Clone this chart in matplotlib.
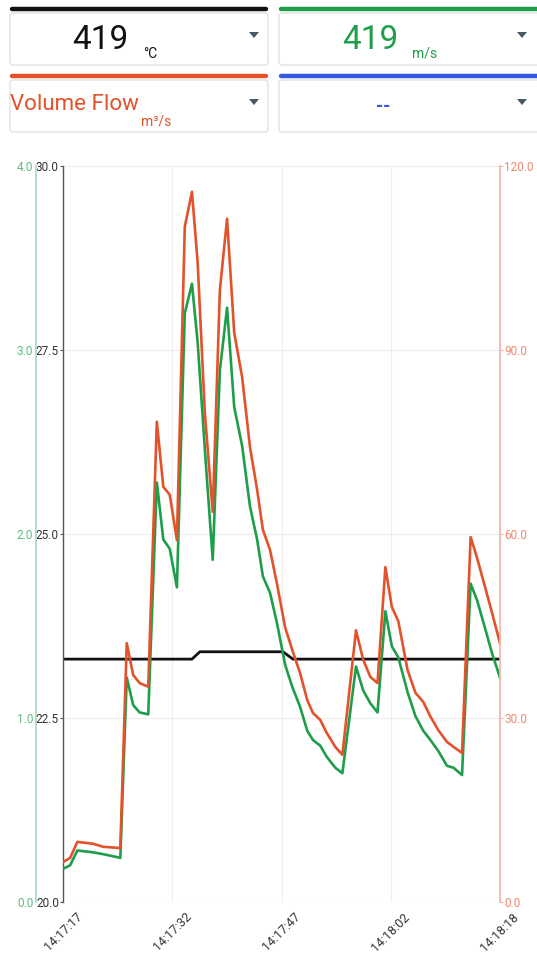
import matplotlib
matplotlib.use("Agg")
from matplotlib import pyplot as plt
from matplotlib.patches import FancyBboxPatch, Polygon

plt.rcParams['font.family'] = ['Roboto', 'DejaVu Sans']

# seconds since 14:17:17
times = [0, 1.0, 2.0, 4.2, 5.6, 8.0, 8.9, 9.8, 10.7, 11.9, 13.1, 14.0, 14.9, 15.9,
         17.0, 18.0, 18.8, 19.8, 20.9, 21.9, 22.9, 23.9, 25.0, 26.1, 27.1, 27.9,
         28.9, 29.9, 31.0, 32.0, 33.1, 34.1, 34.9, 35.9, 36.8, 38.0, 39.0, 40.9,
         41.9, 42.9, 43.9, 45.0, 45.9, 46.8, 48.1, 49.2, 50.3, 51.3, 52.4, 53.6,
         54.5, 55.7, 56.9, 57.8, 58.9, 59.9, 61.0]

volume_flow = [6.5, 7.2, 9.8, 9.5, 9.0, 8.8, 42.2, 37.0, 35.7, 35.1, 78.3, 67.7,
               66.4, 59.0, 110.1, 115.8, 104.2, 79.7, 63.6, 99.8, 111.4, 92.8,
               85.6, 74.2, 67.2, 60.7, 57.4, 51.7, 44.8, 41.1, 37.3, 32.9, 30.8,
               29.7, 27.6, 25.3, 24.0, 44.3, 39.5, 36.7, 35.7, 54.6, 48.1, 45.8,
               37.8, 34.1, 32.6, 30.2, 28.0, 26.1, 25.3, 24.3, 59.5, 56.1, 51.4,
               47.1, 42.2]

velocity = [0.18, 0.20, 0.28, 0.27, 0.26, 0.24, 1.22, 1.07, 1.03, 1.02, 2.28, 1.97,
            1.92, 1.71, 3.20, 3.36, 3.04, 2.46, 1.86, 2.89, 3.23, 2.69, 2.48, 2.15,
            1.97, 1.77, 1.68, 1.51, 1.29, 1.17, 1.06, 0.93, 0.88, 0.85, 0.79, 0.73,
            0.70, 1.28, 1.15, 1.08, 1.03, 1.58, 1.39, 1.33, 1.14, 1.01, 0.93, 0.88,
            0.82, 0.74, 0.73, 0.69, 1.73, 1.64, 1.49, 1.35, 1.22]

temp_times = [0, 18.0, 19.1, 30.7, 32.1, 61.0]
temperature = [23.3, 23.3, 23.4, 23.4, 23.3, 23.3]

x_ticks = [0, 15.25, 30.5, 45.75, 61.0]
x_labels = ["14:17:17", "14:17:32", "14:17:47", "14:18:02", "14:18:18"]

BLACK = "#111111"
GREEN = "#1e9e4a"
RED = "#e2522b"
BLUE = "#3558e0"

W, H = 537, 967
fig = plt.figure(figsize=(W / 100, H / 100), dpi=100)

# header with the four selector boxes, drawn in pixel coords
hdr = fig.add_axes([0, 0, 1, 1])
hdr.set_xlim(0, W)
hdr.set_ylim(H, 0)
hdr.axis("off")


def selector(x0, x1, y_bar, color):
    hdr.plot([x0 + 2, x1 - 2], [y_bar, y_bar], color=color, lw=3.2,
             solid_capstyle="round")
    box = FancyBboxPatch((x0, y_bar + 4), x1 - x0, 52,
                         boxstyle="round,pad=0,rounding_size=3",
                         fc="white", ec="#e2e2e2", lw=1.0)
    hdr.add_patch(box)
    tx = x1 - 14 if x1 < W else 522
    ty = y_bar + 26
    hdr.add_patch(Polygon([[tx - 5, ty - 3], [tx + 5, ty - 3], [tx, ty + 3]],
                          closed=True, fc="#455a64", ec="none"))


selector(10, 268, 9, BLACK)
selector(279, 560, 9, GREEN)
selector(10, 268, 76, RED)
selector(279, 560, 76, BLUE)

hdr.text(100, 40, "419", fontsize=24, color=BLACK, ha="center", va="center")
hdr.text(143, 54, "°C", fontsize=10, color=BLACK, ha="left", va="center")
hdr.text(370, 40, "419", fontsize=24, color=GREEN, ha="center", va="center")
hdr.text(412, 54, "m/s", fontsize=10, color=GREEN, ha="left", va="center")
hdr.text(10, 104, "Volume Flow", fontsize=16, color=RED, ha="left", va="center")
hdr.text(141, 121, "m³/s", fontsize=10, color=RED, ha="left", va="center")
hdr.text(383, 107, "--", fontsize=13, color=BLUE, ha="center", va="center",
         fontweight="bold")

# chart
left, right = 63 / W, 500 / W
bottom, top = 1 - 902 / H, 1 - 166 / H
ax = fig.add_axes([left, bottom, right - left, top - bottom])
ax_g = ax.twinx()
ax_r = ax.twinx()

ax.plot(temp_times, temperature, color=BLACK, lw=2.0)
ax_g.plot(times, velocity, color=GREEN, lw=1.9)
ax_r.plot(times, volume_flow, color=RED, lw=1.9)

ax.set_xlim(0, 61)
ax.set_ylim(20, 30)
ax_g.set_ylim(0, 4)
ax_r.set_ylim(0, 120)

ax.set_yticks([20, 22.5, 25, 27.5, 30])
ax.set_yticklabels(["20.0", "22.5", "25.0", "27.5", "30.0"])
ax_g.set_yticks([0, 1, 2, 3, 4])
ax_g.set_yticklabels(["0.0", "1.0", "2.0", "3.0", "4.0"])
ax_r.set_yticks([0, 30, 60, 90, 120])
ax_r.set_yticklabels(["0.0", "30.0", "60.0", "90.0", "120.0"])

ax.set_xticks(x_ticks)
ax.set_xticklabels(x_labels, rotation=45, ha="center", va="top")
ax.tick_params(axis="x", length=0, pad=6, labelsize=9, labelcolor="#333333")
ax.tick_params(axis="y", length=2, width=0.8, pad=1, labelsize=8.5,
               labelcolor="#333333", color="#555555")
ax.grid(True, color="#eeeeee", lw=0.8)
ax.set_axisbelow(True)

for s in ["top", "bottom", "right"]:
    ax.spines[s].set_visible(False)
ax.spines["left"].set_color("#555555")
ax.spines["left"].set_linewidth(1.0)

ax_g.yaxis.set_ticks_position("left")
ax_g.yaxis.set_label_position("left")
ax_g.spines["left"].set_position(("outward", 19.4))
ax_g.spines["left"].set_color("#a8d8bb")
ax_g.spines["left"].set_linewidth(1.2)
for s in ["top", "bottom", "right"]:
    ax_g.spines[s].set_visible(False)
ax_g.tick_params(axis="y", length=0, pad=2, labelsize=8.5, labelcolor="#5cbb84")

for s in ["top", "bottom", "left"]:
    ax_r.spines[s].set_visible(False)
ax_r.spines["right"].set_color("#f2b3a1")
ax_r.spines["right"].set_linewidth(1.2)
ax_r.tick_params(axis="y", length=2, pad=1, labelsize=8.5, labelcolor="#ea8a6e",
                 color="#f2b3a1")

fig.savefig("out.png", dpi=100)
